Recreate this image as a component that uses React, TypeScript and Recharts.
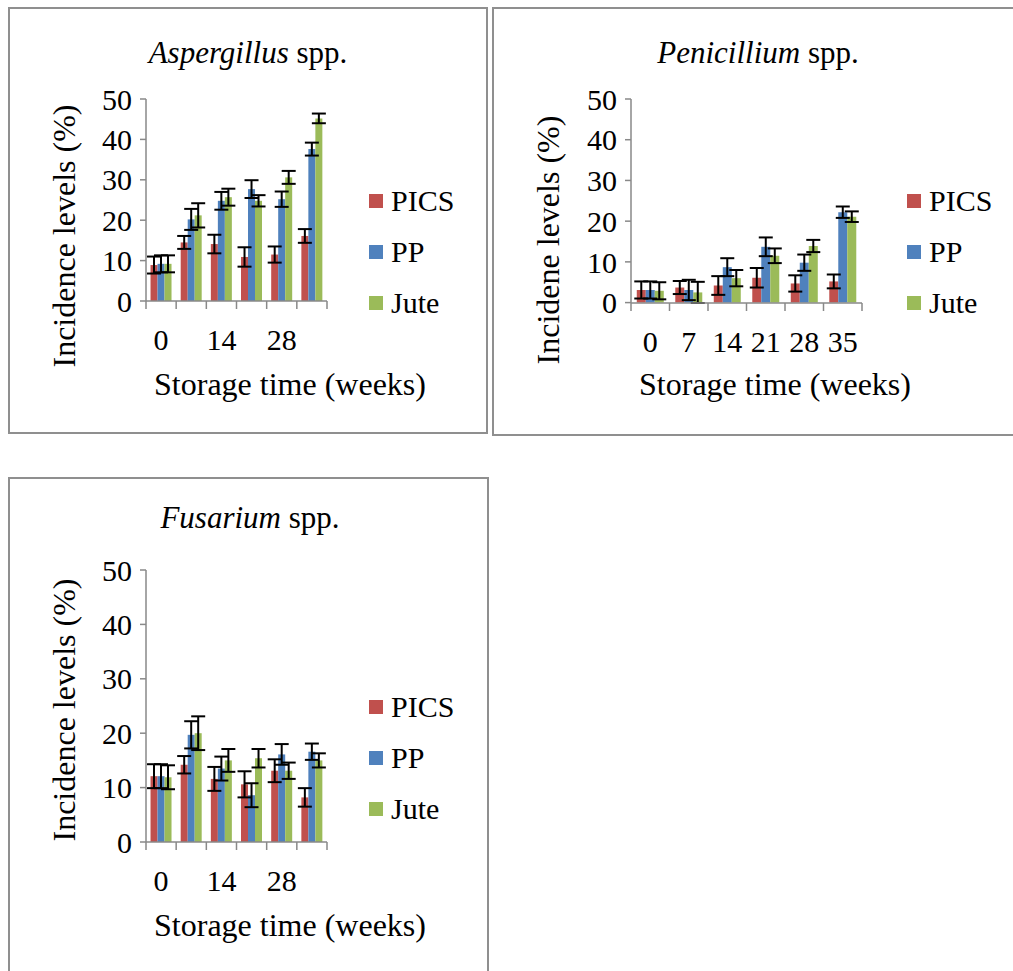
import { BarChart, Bar, XAxis, YAxis, ErrorBar } from "recharts";

const weeks = ["0", "7", "14", "21", "28", "35"];
const yTicks = [0, 10, 20, 30, 40, 50];

const asperPics = [8.9, 14.5, 14.1, 10.9, 11.5, 16.1];
const asperPicsErr = [2.1, 1.6, 2.3, 2.4, 2.0, 1.7];
const asperPP = [9.2, 20.2, 24.8, 27.7, 25.2, 37.6];
const asperPPErr = [2.1, 2.6, 2.2, 2.2, 1.9, 1.6];
const asperJute = [9.2, 21.2, 25.7, 24.8, 30.6, 45.2];
const asperJuteErr = [2.1, 3.0, 2.1, 1.4, 1.6, 1.2];

const penPics = [3.1, 3.7, 4.2, 6.1, 4.7, 5.2];
const penPicsErr = [2.1, 1.6, 2.3, 2.4, 2.0, 1.7];
const penPP = [3.1, 3.1, 8.7, 13.7, 9.8, 22.2];
const penPPErr = [2.1, 2.5, 2.2, 2.3, 2.0, 1.4];
const penJute = [2.9, 2.5, 6.0, 11.5, 13.9, 21.1];
const penJuteErr = [2.1, 2.6, 2.0, 1.8, 1.5, 1.3];

const fusPics = [12.1, 14.2, 11.6, 10.6, 13.1, 8.2];
const fusPicsErr = [2.2, 1.6, 2.2, 2.4, 2.1, 1.7];
const fusPP = [12.1, 19.7, 13.5, 8.6, 16.1, 16.6];
const fusPPErr = [2.2, 2.5, 2.2, 2.2, 1.9, 1.5];
const fusJute = [11.9, 20.0, 15.0, 15.4, 13.1, 15.0];
const fusJuteErr = [2.2, 3.1, 2.1, 1.7, 1.5, 1.3];

const series = [
  { key: "pics", name: "PICS", color: "#C0504D" },
  { key: "pp", name: "PP", color: "#4F81BD" },
  { key: "jute", name: "Jute", color: "#9BBB59" },
];

const FONT = "'Liberation Serif', 'Times New Roman', Times, 'DejaVu Serif', serif";
const AXIS = "#898989";

function build(p: number[], pe: number[], b: number[], be: number[], j: number[], je: number[]) {
  return weeks.map((w, i) => ({
    week: w,
    pics: p[i],
    picsErr: pe[i],
    pp: b[i],
    ppErr: be[i],
    jute: j[i],
    juteErr: je[i],
  }));
}

// tick marks sit between categories, like Excel
function makeTick(band: number, every: number) {
  return (props: any) => {
    const { x, y, payload, index } = props;
    return (
      <g>
        <line x1={x - band / 2} y1={y} x2={x - band / 2} y2={y + 8} stroke={AXIS} strokeWidth={1.5} />
        {index === weeks.length - 1 && (
          <line x1={x + band / 2} y1={y} x2={x + band / 2} y2={y + 8} stroke={AXIS} strokeWidth={1.5} />
        )}
        {index % every === 0 && (
          <text x={x} y={y + 49} textAnchor="middle" style={{ fontSize: 30, fontFamily: FONT }} fill="#000">
            {payload.value}
          </text>
        )}
      </g>
    );
  };
}

type PanelProps = {
  data: any[];
  left: number;
  top: number;
  width: number;
  height: number;
  margin: { top: number; right: number; bottom: number; left: number };
  band: number;
  every: number;
};

function Panel({ data, left, top, width, height, margin, band, every }: PanelProps) {
  return (
    <div style={{ position: "absolute", left, top }}>
      <BarChart width={width} height={height} data={data} margin={margin} barGap={0} barCategoryGap="15%">
        <XAxis
          dataKey="week"
          interval={0}
          tickLine={false}
          tickSize={0}
          tickMargin={0}
          height={40}
          axisLine={{ stroke: AXIS, strokeWidth: 1.5 }}
          tick={makeTick(band, every)}
        />
        <YAxis
          domain={[0, 50]}
          ticks={yTicks}
          width={60}
          tickSize={6}
          tickMargin={8}
          axisLine={{ stroke: AXIS, strokeWidth: 1.5 }}
          tickLine={{ stroke: AXIS, strokeWidth: 1.5 }}
          tick={{ fill: "#000", fontSize: 30, style: { fontFamily: FONT } }}
        />
        {series.map((s) => (
          <Bar key={s.key} dataKey={s.key} fill={s.color} isAnimationActive={false}>
            <ErrorBar dataKey={s.key + "Err"} width={7} stroke="#000" strokeWidth={2} direction="y" />
          </Bar>
        ))}
      </BarChart>
    </div>
  );
}

function Legend({ left, top }: { left: number; top: number }) {
  return (
    <div style={{ position: "absolute", left, top, fontFamily: FONT, fontSize: 30 }}>
      {series.map((s) => (
        <div key={s.key} style={{ display: "flex", alignItems: "center", height: 51 }}>
          <span style={{ display: "inline-block", width: 14, height: 14, background: s.color, marginRight: 8 }} />
          <span>{s.name}</span>
        </div>
      ))}
    </div>
  );
}

function Text({ x, y, children, rotate, size }: { x: number; y: number; children: any; rotate?: boolean; size: number }) {
  return (
    <div
      style={{
        position: "absolute",
        left: x,
        top: y,
        transform: `translate(-50%, -50%)${rotate ? " rotate(-90deg)" : ""}`,
        whiteSpace: "nowrap",
        fontFamily: FONT,
        fontSize: size,
        lineHeight: 1,
      }}
    >
      {children}
    </div>
  );
}

function Box({ left, top, width, height }: { left: number; top: number; width: number; height: number }) {
  return (
    <div
      style={{
        position: "absolute",
        left,
        top,
        width,
        height,
        border: "2px solid #8f8f8f",
        boxSizing: "border-box",
      }}
    />
  );
}

export default function App() {
  const asper = build(asperPics, asperPicsErr, asperPP, asperPPErr, asperJute, asperJuteErr);
  const pen = build(penPics, penPicsErr, penPP, penPPErr, penJute, penJuteErr);
  const fus = build(fusPics, fusPicsErr, fusPP, fusPPErr, fusJute, fusJuteErr);

  return (
    <div style={{ position: "relative", width: 1013, height: 971, overflow: "hidden", background: "#fff", fontFamily: FONT }}>
      <style>{`body{margin:0}`}</style>
      <Box left={8} top={7} width={480} height={427} />
      <Box left={492} top={7} width={600} height={429} />
      <Box left={8} top={477} width={481} height={600} />

      {/* Aspergillus */}
      <Text x={248} y={52} size={31}>
        <i>Aspergillus</i> spp.
      </Text>
      <Panel
        data={asper}
        left={0}
        top={0}
        width={490}
        height={440}
        margin={{ top: 99, right: 163, bottom: 99, left: 86 }}
        band={181 / 6}
        every={2}
      />
      <Text x={64} y={236} size={32} rotate>
        Incidence levels (%)
      </Text>
      <Text x={290} y={384} size={32}>
        Storage time (weeks)
      </Text>
      <Legend left={369} top={175} />

      {/* Penicillium */}
      <Text x={758} y={52} size={31}>
        <i>Penicillium</i> spp.
      </Text>
      <Panel
        data={pen}
        left={490}
        top={0}
        width={523}
        height={440}
        margin={{ top: 99, right: 151, bottom: 97, left: 81 }}
        band={231 / 6}
        every={1}
      />
      <Text x={548} y={240} size={32} rotate>
        Incidene levels (%)
      </Text>
      <Text x={775} y={384} size={32}>
        Storage time (weeks)
      </Text>
      <Legend left={907} top={175} />

      {/* Fusarium */}
      <Text x={250} y={517} size={31}>
        <i>Fusarium</i> spp.
      </Text>
      <Panel
        data={fus}
        left={0}
        top={470}
        width={490}
        height={460}
        margin={{ top: 100, right: 163, bottom: 48, left: 86 }}
        band={181 / 6}
        every={2}
      />
      <Text x={64} y={710} size={32} rotate>
        Incidence levels (%)
      </Text>
      <Text x={290} y={925} size={32}>
        Storage time (weeks)
      </Text>
      <Legend left={369} top={681} />
    </div>
  );
}
